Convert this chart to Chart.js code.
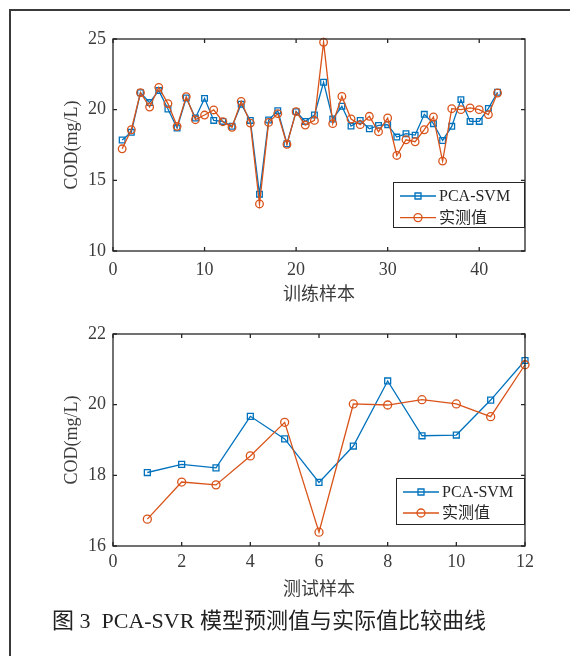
<!DOCTYPE html>
<html><head><meta charset="utf-8">
<script src="https://cdn.jsdelivr.net/npm/chart.js@4"></script>
<style>
html,body{margin:0;padding:0;background:#fff}
body{width:570px;height:656px;position:relative;overflow:hidden}
#frame{position:absolute;left:9px;top:9px;width:600px;height:700px;border-left:2px solid #3a3a3a;border-top:2px solid #3a3a3a}
.c{position:absolute;left:0;width:570px}
#caption{position:absolute;left:52px;top:607px;font:22px "Liberation Serif","Noto Sans CJK SC",serif;line-height:28px;color:#222;white-space:pre}
</style></head>
<body>
<div id="frame"></div>
<div class="c" style="top:0;height:320px"><canvas id="c1"></canvas></div>
<div class="c" style="top:300px;height:310px"><canvas id="c2"></canvas></div>
<div id="caption">图 3  PCA-SVR 模型预测值与实际值比较曲线</div>
<script>
// ---- data ----
const trainX = [1,2,3,4,5,6,7,8,9,10,11,12,13,14,15,16,17,18,19,20,21,22,23,24,25,26,27,28,29,30,31,32,33,34,35,36,37,38,39,40,41,42];
const trainPred = [17.85,18.40,21.20,20.50,21.35,20.05,18.70,20.83,19.41,20.80,19.24,19.17,18.82,20.38,19.24,14.02,19.27,19.93,17.59,19.86,19.17,19.62,21.94,19.34,20.24,18.84,19.24,18.65,18.89,18.94,18.06,18.30,18.20,19.67,19.01,17.82,18.82,20.71,19.17,19.17,20.09,21.23];
const trainActual = [17.23,18.58,21.20,20.19,21.58,20.43,18.82,20.92,19.29,19.62,19.98,19.15,18.75,20.59,19.05,13.33,19.10,19.72,17.55,19.86,18.91,19.24,24.77,19.01,20.94,19.34,18.94,19.53,18.44,19.41,16.76,17.87,17.73,18.58,19.48,16.36,20.07,20.00,20.12,20.00,19.65,21.18];
const testX = [1,2,3,4,5,6,7,8,9,10,11,12];
const testPred = [18.08,18.31,18.21,19.67,19.03,17.80,18.83,20.67,19.12,19.14,20.13,21.25];
const testActual = [16.76,17.81,17.73,18.55,19.50,16.39,20.02,19.99,20.14,20.02,19.66,21.13];
const trainXTicks = [0,10,20,30,40];
const trainYTicks = [10,15,20,25];
const testXTicks = [0,2,4,6,8,10,12];
const testYTicks = [16,18,20,22];
const seriesNames = ['PCA-SVM','实测值'];
const seriesColors = ['#0072BD','#D95319'];
const yTitle = 'COD(mg/L)';
const trainTitle = '训练样本';
const testTitle = '测试样本';

const FONT = '"Liberation Serif","Noto Sans CJK SC",serif';
const AXC = '#262626';
const TXC = '#3c3c3c';

const boxPlugin = {
  id: 'matbox',
  afterDatasetsDraw(chart, args, opts) {
    const {ctx, chartArea: a, scales: {x, y}} = chart;
    ctx.save();
    ctx.strokeStyle = AXC;
    ctx.lineWidth = 1.3;
    const tl = 4;
    ctx.beginPath();
    x.ticks.forEach(t => {
      const p = x.getPixelForValue(t.value);
      ctx.moveTo(p, a.bottom); ctx.lineTo(p, a.bottom - tl);
      ctx.moveTo(p, a.top); ctx.lineTo(p, a.top + tl);
    });
    y.ticks.forEach(t => {
      const p = y.getPixelForValue(t.value);
      ctx.moveTo(a.left, p); ctx.lineTo(a.left + tl, p);
      ctx.moveTo(a.right, p); ctx.lineTo(a.right - tl, p);
    });
    ctx.stroke();
    ctx.strokeRect(a.left, a.top, a.right - a.left, a.bottom - a.top);

    // legend
    const L = opts.legend;
    const bx = Math.round(a.right - L.right - L.w), by = Math.round(a.bottom - L.bottom - L.h);
    ctx.fillStyle = '#fff';
    ctx.fillRect(bx, by, L.w, L.h);
    ctx.lineWidth = 1;
    ctx.strokeStyle = AXC;
    ctx.strokeRect(bx + 0.5, by + 0.5, L.w, L.h);
    const ds = chart.data.datasets;
    [0, 1].forEach(i => {
      const d = ds[i];
      const cy = by + L.row0 + i * L.rowGap;
      ctx.strokeStyle = d.borderColor;
      ctx.lineWidth = 1.3;
      ctx.beginPath();
      ctx.moveTo(bx + 7, cy); ctx.lineTo(bx + 43, cy);
      ctx.stroke();
      const mx = bx + 25;
      ctx.beginPath();
      if (d.pointStyle === 'rect') {
        ctx.rect(mx - 3, cy - 3, 6, 6);
      } else {
        ctx.arc(mx, cy, 4, 0, Math.PI * 2);
      }
      ctx.stroke();
      ctx.fillStyle = AXC;
      ctx.font = '16px ' + FONT;
      ctx.textAlign = 'left';
      ctx.textBaseline = 'middle';
      ctx.fillText(d.label, bx + 46, cy + 1);
    });
    ctx.restore();
  }
};

function makeChart(id, xs, pred, act, xt, yt, g, xTitle) {
  const mk = (vals) => xs.map((v, i) => ({x: v, y: vals[i]}));
  return new Chart(document.getElementById(id), {
    type: 'line',
    data: {
      datasets: [
        {label: seriesNames[0], data: mk(pred), borderColor: seriesColors[0], backgroundColor: 'rgba(0,0,0,0)',
         borderWidth: 1.3, pointStyle: 'rect', pointRadius: g.sq, pointBorderWidth: 1.3, pointBackgroundColor: 'rgba(0,0,0,0)',
         tension: 0, clip: false, order: 1},
        {label: seriesNames[1], data: mk(act), borderColor: seriesColors[1], backgroundColor: 'rgba(0,0,0,0)',
         borderWidth: 1.3, pointStyle: 'circle', pointRadius: g.ci, pointBorderWidth: 1.3, pointBackgroundColor: 'rgba(0,0,0,0)',
         tension: 0, clip: false, order: 0}
      ]
    },
    options: {
      responsive: true, maintainAspectRatio: false, animation: false,
      events: [],
      layout: {padding: {top: g.padTop, right: g.padRight, left: 0, bottom: 0}},
      plugins: {legend: {display: false}, tooltip: {enabled: false}, matbox: {legend: g.legend}},
      scales: {
        x: {
          type: 'linear', min: xt[0], max: g.xmax,
          afterBuildTicks: s => { s.ticks = xt.map(v => ({value: v})); },
          afterFit: s => { s.height = g.xH; },
          grid: {display: false, drawTicks: false}, border: {display: false},
          ticks: {padding: g.xTickPad, color: TXC, font: {family: FONT, size: 18}, maxRotation: 0, autoSkip: false},
          title: {display: true, text: xTitle, color: TXC, font: {family: FONT, size: 18}, padding: {top: 0, bottom: g.xTitlePad}}
        },
        y: {
          type: 'linear', min: yt[0], max: yt[yt.length - 1],
          afterBuildTicks: s => { s.ticks = yt.map(v => ({value: v})); },
          afterFit: s => { s.width = 113; },
          grid: {display: false, drawTicks: false}, border: {display: false},
          ticks: {padding: 7, color: TXC, font: {family: FONT, size: 18}, autoSkip: false},
          title: {display: true, text: yTitle, color: TXC, font: {family: FONT, size: 18}, padding: {top: 61, bottom: 0}}
        }
      }
    },
    plugins: [boxPlugin]
  });
}

makeChart('c1', trainX, trainPred, trainActual, trainXTicks, trainYTicks, {
  padTop: 39, padRight: 45, xH: 69, xmax: 45, xTickPad: 8, xTitlePad: 14, sq: 4, ci: 3.8,
  legend: {right: 1, bottom: 24, w: 131, h: 45, row0: 14, rowGap: 21.6}
}, trainTitle);

makeChart('c2', testX, testPred, testActual, testXTicks, testYTicks, {
  padTop: 34, padRight: 45, xH: 64, xmax: 12, xTickPad: 5, xTitlePad: 9, sq: 4.2, ci: 4,
  legend: {right: 1, bottom: 22, w: 128, h: 46, row0: 14, rowGap: 21}
}, testTitle);
</script>
</body></html>
